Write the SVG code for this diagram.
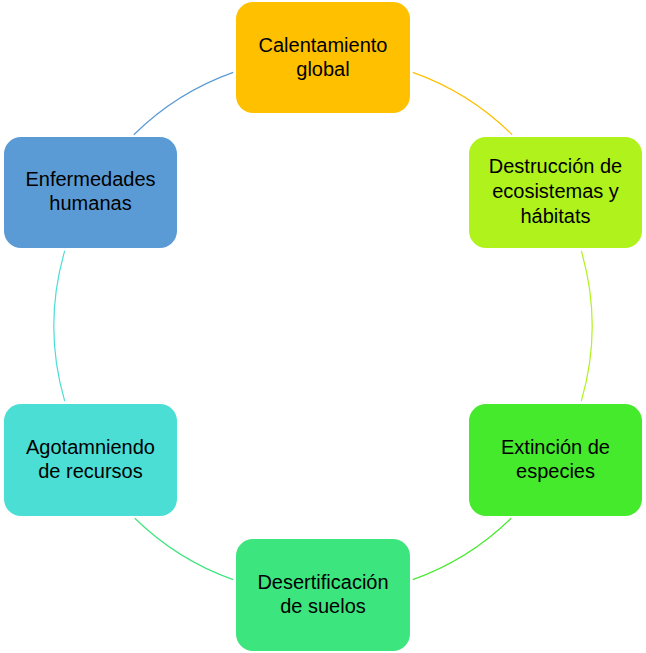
<svg xmlns="http://www.w3.org/2000/svg" width="646" height="653" viewBox="0 0 646 653">
<style>
.box{rx:17px;ry:17px}
.lbl{font-family:"Liberation Sans",Arial,sans-serif;font-size:20px;fill:#000;text-anchor:middle}
.arc{fill:none;stroke-width:1.2}
</style>
<rect width="646" height="653" fill="#fff"/>
<g id="connectors">
<path class="arc" stroke="#FFC000" d="M412.8,72.4 A269,269 0 0 1 512.2,134.8"/>
<path class="arc" stroke="#B0F21B" d="M581.3,250.9 A269,269 0 0 1 581.3,401.1"/>
<path class="arc" stroke="#46EA2D" d="M511.2,518.2 A269,269 0 0 1 412.8,579.6"/>
<path class="arc" stroke="#3DE57E" d="M233.2,579.6 A269,269 0 0 1 134.8,518.2"/>
<path class="arc" stroke="#4BDED4" d="M64.7,401.1 A269,269 0 0 1 64.7,250.9"/>
<path class="arc" stroke="#5B9BD5" d="M133.8,134.8 A269,269 0 0 1 233.2,72.4"/>
</g>
<g id="calentamiento">
<rect class="box" x="236" y="2" width="174" height="111" fill="#FFC000"/>
<text class="lbl" x="323" y="52">Calentamiento</text>
<text class="lbl" x="323" y="76">global</text>
</g>
<g id="destruccion">
<rect class="box" x="469" y="137" width="173" height="111" fill="#B0F21B"/>
<text class="lbl" x="555.5" y="173">Destrucción de</text>
<text class="lbl" x="555.5" y="198">ecosistemas y</text>
<text class="lbl" x="555.5" y="223">hábitats</text>
</g>
<g id="extincion">
<rect class="box" x="469" y="404" width="173" height="112" fill="#46EA2D"/>
<text class="lbl" x="555.5" y="454">Extinción de</text>
<text class="lbl" x="555.5" y="478">especies</text>
</g>
<g id="desertificacion">
<rect class="box" x="236" y="539" width="174" height="112" fill="#3DE57E"/>
<text class="lbl" x="323" y="589">Desertificación</text>
<text class="lbl" x="323" y="613">de suelos</text>
</g>
<g id="agotamiento">
<rect class="box" x="4" y="404" width="173" height="112" fill="#4BDED4"/>
<text class="lbl" x="90.5" y="454">Agotamniendo</text>
<text class="lbl" x="90.5" y="478">de recursos</text>
</g>
<g id="enfermedades">
<rect class="box" x="4" y="137" width="173" height="111" fill="#5B9BD5"/>
<text class="lbl" x="90.5" y="186">Enfermedades</text>
<text class="lbl" x="90.5" y="210">humanas</text>
</g>
</svg>
